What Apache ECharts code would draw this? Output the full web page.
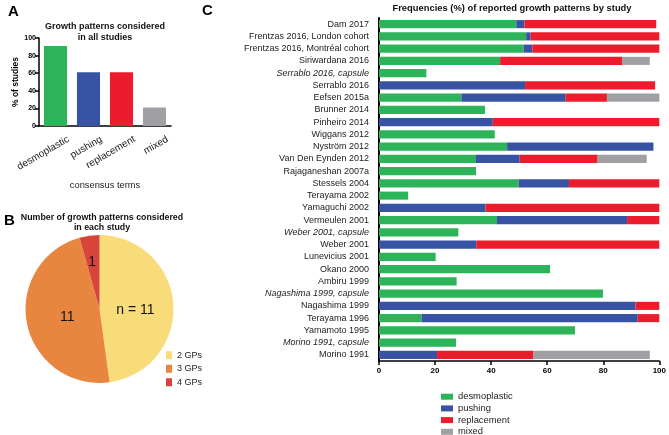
<!DOCTYPE html>
<html><head><meta charset="utf-8">
<script src="https://cdn.jsdelivr.net/npm/echarts@6/dist/echarts.min.js"></script>
<style>html,body{margin:0;padding:0;background:#fff}#c{width:669px;height:435px}</style>
</head><body><div id="c"></div>
<script>
// Panel A data
const termsA = ['desmoplastic', 'pushing', 'replacement', 'mixed'];
const pctStudiesA = [91, 61, 61, 21];
const ticksA = [0, 20, 40, 60, 80, 100];

// Panel B data
const gpNames = ['2 GPs', '3 GPs', '4 GPs'];
const gpCounts = [11, 11, 1];

// Panel C data
const studies = ['Dam 2017', 'Frentzas 2016, London cohort', 'Frentzas 2016, Montréal cohort', 'Siriwardana 2016',
  'Serrablo 2016, capsule', 'Serrablo 2016', 'Eefsen 2015a', 'Brunner 2014', 'Pinheiro 2014', 'Wiggans 2012',
  'Nyström 2012', 'Van Den Eynden 2012', 'Rajaganeshan 2007a', 'Stessels 2004', 'Terayama 2002', 'Yamaguchi 2002',
  'Vermeulen 2001', 'Weber 2001, capsule', 'Weber 2001', 'Lunevicius 2001', 'Okano 2000', 'Ambiru 1999',
  'Nagashima 1999, capsule', 'Nagashima 1999', 'Terayama 1996', 'Yamamoto 1995', 'Morino 1991, capsule', 'Morino 1991'];
const italicStudies = ['Serrablo 2016, capsule', 'Weber 2001, capsule', 'Nagashima 1999, capsule', 'Morino 1991, capsule'];
const desmoplastic = [49, 52.5, 51.6, 43.2, 16.9, null, 29.4, 37.8, null, 41.3, 45.7, 34.6, 34.6, 49.8, 10.4, null, 42.1, 28.3, null, 20.2, 61.0, 27.7, 79.9, null, 15.2, 69.9, 27.5, null];
const pushing = [2.9, 1.6, 3.1, null, null, 52.1, 37.2, null, 40.6, null, 52.2, 15.6, null, 18.0, null, 38.0, 46.4, null, 34.7, null, null, null, null, 91.5, 77.1, null, null, 20.7];
const replacement = [47.0, 45.9, 45.3, 43.5, null, 46.4, 14.7, null, 59.4, null, null, 27.8, null, 32.2, null, 62.0, 11.5, null, 65.3, null, null, null, null, 8.5, 7.7, null, null, 34.4];
const mixed = [null, null, null, 9.9, null, null, 18.7, null, null, null, null, 17.5, null, null, null, null, null, null, null, null, null, null, null, null, null, null, null, 41.5];
const ticksC = [0, 20, 40, 60, 80, 100];

const colC = {desmoplastic: '#2db35a', pushing: '#3853a3', replacement: '#ec1c2d', mixed: '#a0a0a4'};
const colA = ['#2db35a', '#3853a3', '#ec1c2d', '#a0a0a4'];
const colB = ['#f9dc7a', '#e8853f', '#d9443a'];
const pieLabelShift = [[-4, 4], [7, 0], [-2, -7]];
const FONT = 'Liberation Sans, Arial, sans-serif';

const chart = echarts.init(document.getElementById('c'), null, {renderer: 'canvas'});
const seriesC = [['desmoplastic', desmoplastic], ['pushing', pushing], ['replacement', replacement], ['mixed', mixed]].map(([n, d]) => ({
  name: n, type: 'bar', stack: 'c', xAxisIndex: 1, yAxisIndex: 1, data: d, barCategoryGap: '34%',
  itemStyle: {color: colC[n]}
}));

chart.setOption({
  animation: false,
  textStyle: {fontFamily: FONT},
  grid: [
    {left: 39, top: 38, width: 132, height: 88},
    {left: 379, top: 18, width: 283, height: 343}
  ],
  xAxis: [
    {type: 'category', gridIndex: 0, data: termsA,
     axisLine: {lineStyle: {color: '#000', width: 1.5}},
     axisTick: {alignWithLabel: true, length: 4, lineStyle: {color: '#000', width: 1.5}},
     axisLabel: {rotate: 30, fontSize: 10, color: '#222', margin: 20, padding: [0, -15, 0, 0], fontFamily: FONT},
     name: 'consensus terms', nameLocation: 'middle', nameGap: 55,
     nameTextStyle: {fontSize: 9.3, color: '#222', fontFamily: FONT}},
    {type: 'value', gridIndex: 1, min: 0, max: 100, interval: 20,
     axisLine: {show: true, lineStyle: {color: '#000', width: 1.5}},
     axisTick: {show: true, length: 4, lineStyle: {color: '#000', width: 1.5}},
     axisLabel: {fontSize: 8, fontWeight: 'bold', color: '#000', margin: 6, fontFamily: FONT},
     splitLine: {show: false}}
  ],
  yAxis: [
    {type: 'value', gridIndex: 0, min: 0, max: 100, interval: 20,
     axisLine: {show: true, lineStyle: {color: '#000', width: 1.5}},
     axisTick: {show: true, length: 4, lineStyle: {color: '#000', width: 1.5}},
     axisLabel: {fontSize: 7, fontWeight: 'bold', color: '#000', margin: 3, fontFamily: FONT},
     splitLine: {show: false},
     name: '% of studies', nameLocation: 'middle', nameGap: 18, nameRotate: 90,
     nameTextStyle: {fontSize: 8.5, fontWeight: 'bold', color: '#000', fontFamily: FONT}},
    {type: 'category', gridIndex: 1, data: studies, inverse: true,
     axisLine: {lineStyle: {color: '#000', width: 2}},
     axisTick: {alignWithLabel: true, length: 6, lineStyle: {color: '#000', width: 1.5}},
     axisLabel: {fontSize: 9, color: '#222', margin: 10, fontFamily: FONT,
       formatter: v => italicStudies.includes(v) ? '{i|' + v + '}' : v,
       rich: {i: {fontStyle: 'italic', fontSize: 9, color: '#222', fontFamily: FONT}}}}
  ],
  legend: [
    {data: ['desmoplastic', 'pushing', 'replacement', 'mixed'], orient: 'vertical', left: 441, top: 391.7,
     height: 60, padding: 0,
     itemWidth: 12, itemHeight: 6, itemGap: 1.7, icon: 'rect', selectedMode: false,
     textStyle: {fontSize: 9.4, color: '#222', lineHeight: 10, fontFamily: FONT}},
    {data: gpNames, orient: 'vertical', left: 166, top: 350, height: 60, padding: 0,
     itemWidth: 6, itemHeight: 8, itemGap: 3, icon: 'rect', selectedMode: false,
     textStyle: {fontSize: 9, color: '#222', lineHeight: 10.5, fontFamily: FONT}}
  ],
  graphic: [
    {type: 'text', left: 8, top: 4, style: {text: 'A', font: 'bold 15px ' + FONT, fill: '#000'}},
    {type: 'text', left: 4, top: 213, style: {text: 'B', font: 'bold 15px ' + FONT, fill: '#000'}},
    {type: 'text', left: 202, top: 3, style: {text: 'C', font: 'bold 15px ' + FONT, fill: '#000'}},
    {type: 'text', x: 105, y: 21, style: {text: 'Growth patterns considered\nin all studies', textAlign: 'center', font: 'bold 9px ' + FONT, lineHeight: 11, fill: '#111'}},
    {type: 'text', x: 102, y: 212, style: {text: 'Number of growth patterns considered\nin each study', textAlign: 'center', font: 'bold 8.8px ' + FONT, lineHeight: 10.5, fill: '#111'}},
    {type: 'text', x: 512, y: 4, style: {text: 'Frequencies (%) of reported growth patterns by study', textAlign: 'center', font: 'bold 9.4px ' + FONT, fill: '#111'}}
  ],
  series: [
    {name: 'all studies', type: 'bar', xAxisIndex: 0, yAxisIndex: 0, data: pctStudiesA, barCategoryGap: '30%',
     itemStyle: {color: p => colA[p.dataIndex]}},
    {name: 'GPs', type: 'pie', center: [99.5, 309], radius: 74, startAngle: 90, clockwise: true,
     data: gpNames.map((n, i) => ({name: n, value: gpCounts[i], itemStyle: {color: colB[i]}})),
     label: {position: 'inside', fontSize: 14, color: '#111', fontFamily: FONT,
       formatter: p => p.dataIndex === 0 ? 'n = ' + p.value : String(p.value)},
     labelLayout: p => ({dx: pieLabelShift[p.dataIndex][0], dy: pieLabelShift[p.dataIndex][1]}),
     labelLine: {show: false}, emphasis: {disabled: true}},
    ...seriesC
  ]
});
</script></body></html>
